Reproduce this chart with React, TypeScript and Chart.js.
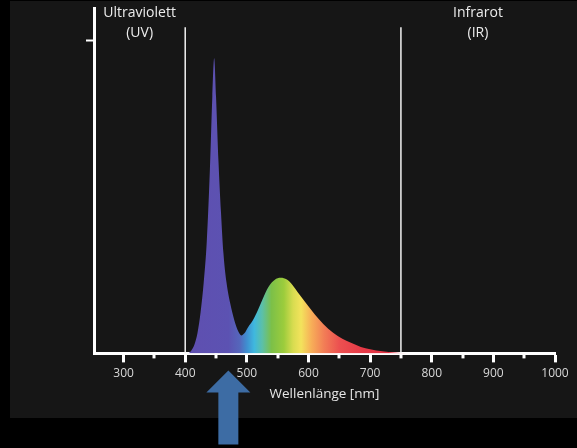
import React, { useEffect, useRef } from 'react';
import { Chart, registerables } from 'chart.js';

Chart.register(...registerables);

// Spectrum of a white LED (relative intensity, peak = 100)
const WAVELENGTH_NM = [405, 410, 415, 420, 425, 430, 435, 440, 444, 447, 450, 454, 458, 462, 467, 473, 480, 486, 491, 496, 502, 510, 518, 525, 535, 545, 555, 565, 574, 585, 598, 610, 624, 640, 655, 668, 685, 700, 720, 740, 760];
const INTENSITY = [0, 1, 3, 7, 14, 24, 38, 62, 87, 100, 87, 65, 48, 34, 24, 17, 11, 7.5, 6.1, 6.8, 8.9, 11.3, 14.7, 18.1, 22.5, 24.9, 25.6, 25.0, 23.2, 20.0, 16.5, 13.3, 10.0, 7.0, 5.0, 3.7, 2.2, 1.4, 0.7, 0.3, 0];

const X_MIN = 252;
const X_MAX = 1000;
const X_MAJOR_TICKS = [300, 400, 500, 600, 700, 800, 900, 1000];
const X_MINOR_TICKS = [350, 450, 550, 650, 750, 850, 950];
const Y_MAX = 117;
const Y_TICKS = [106];

const BOUNDARY_NM = [400, 750];
const BOUNDARY_TOP = 110.5;
const REGION_LABELS = [['Ultraviolett', '(UV)'], ['Infrarot', '(IR)']];
const ARROW_NM = 470;
const X_TITLE = 'Wellenlänge [nm]';

const GRADIENT_STOPS: [number, string][] = [
  [400, '#5f4fb0'],
  [470, '#5c52b2'],
  [488, '#5566bb'],
  [500, '#3f8fd0'],
  [512, '#3fb8df'],
  [525, '#5cc0a8'],
  [540, '#7cc048'],
  [560, '#9ccc3c'],
  [575, '#d8dc50'],
  [588, '#f3e35c'],
  [605, '#f7ae58'],
  [625, '#f27e56'],
  [650, '#ec5050'],
  [690, '#e63846'],
  [760, '#e03044'],
];

const FONT = '"Open Sans", "DejaVu Sans", sans-serif';

const decorPlugin = {
  id: 'decor',
  beforeDraw(chart: any) {
    const c = chart.ctx;
    c.save();
    c.fillStyle = '#000';
    c.fillRect(0, 0, chart.width, chart.height);
    c.fillStyle = '#161616';
    c.fillRect(10, 1, chart.width - 10, 417);
    c.restore();
  },
  afterDraw(chart: any) {
    const c = chart.ctx;
    const x = chart.scales.x;
    const area = chart.chartArea;
    c.save();
    // minor ticks
    c.strokeStyle = '#ffffff';
    c.lineWidth = 3;
    X_MINOR_TICKS.forEach((v) => {
      const px = Math.round(x.getPixelForValue(v));
      c.beginPath();
      c.moveTo(px, area.bottom);
      c.lineTo(px, area.bottom + 5);
      c.stroke();
    });
    // region labels
    c.fillStyle = '#ececec';
    c.font = '14px ' + FONT;
    c.textAlign = 'center';
    c.textBaseline = 'middle';
    const ranges = [[X_MIN, BOUNDARY_NM[0]], [BOUNDARY_NM[1], X_MAX]];
    REGION_LABELS.forEach((lines, i) => {
      const cx = x.getPixelForValue((ranges[i][0] + ranges[i][1]) / 2);
      lines.forEach((t, j) => c.fillText(t, cx, area.top + 5 + j * 20));
    });
    // arrow
    const ax = x.getPixelForValue(ARROW_NM);
    const tip = area.bottom + 17;
    c.fillStyle = '#3d6ca4';
    c.beginPath();
    c.moveTo(ax, tip);
    c.lineTo(ax + 22, tip + 22);
    c.lineTo(ax + 10, tip + 22);
    c.lineTo(ax + 10, tip + 74);
    c.lineTo(ax - 10, tip + 74);
    c.lineTo(ax - 10, tip + 22);
    c.lineTo(ax - 22, tip + 22);
    c.closePath();
    c.fill();
    c.restore();
  },
};

export default function App() {
  const ref = useRef<HTMLCanvasElement | null>(null);
  useEffect(() => {
    if (!ref.current) return;
    const spectrum = WAVELENGTH_NM.map((w, i) => ({ x: w, y: INTENSITY[i] }));
    const boundaries = BOUNDARY_NM.map((b) => ({
      type: 'line' as const,
      data: [{ x: b, y: 0 }, { x: b, y: BOUNDARY_TOP }],
      borderColor: '#f2f2f2',
      borderWidth: 1.5,
      pointRadius: 0,
      fill: false,
    }));
    const chart = new Chart(ref.current, {
      type: 'line',
      data: {
        datasets: [
          {
            data: spectrum,
            borderWidth: 0,
            borderColor: 'rgba(0,0,0,0)',
            pointRadius: 0,
            fill: 'origin',
            cubicInterpolationMode: 'monotone',
            backgroundColor: (ctx: any) => {
              const ch = ctx.chart;
              if (!ch.chartArea) return '#5f4fb0';
              const sx = ch.scales.x;
              const x0 = sx.getPixelForValue(400);
              const x1 = sx.getPixelForValue(760);
              const g = ch.ctx.createLinearGradient(x0, 0, x1, 0);
              GRADIENT_STOPS.forEach(([nm, col]) => g.addColorStop((nm - 400) / 360, col));
              return g;
            },
          } as any,
          ...boundaries,
        ],
      },
      options: {
        responsive: false,
        animation: false,
        devicePixelRatio: 1,
        layout: { padding: { left: 86, top: 8, right: 22, bottom: 46 } },
        plugins: { legend: { display: false }, tooltip: { enabled: false } },
        scales: {
          x: {
            type: 'linear',
            min: X_MIN,
            max: X_MAX,
            afterBuildTicks: (s: any) => {
              s.ticks = X_MAJOR_TICKS.map((v) => ({ value: v }));
            },
            ticks: {
              color: '#d8d8d8',
              font: { family: FONT, size: 12 },
              padding: 4,
              maxRotation: 0,
              autoSkip: false,
              callback: (v: any) => String(v),
            },
            grid: { drawOnChartArea: false, drawTicks: true, tickLength: 9, tickColor: '#ffffff', tickWidth: 3 },
            border: { display: true, color: '#ffffff', width: 3 },
            title: {
              display: true,
              text: X_TITLE,
              color: '#e6e6e6',
              font: { family: FONT, size: 13.5 },
              padding: { top: 1, bottom: 0 },
            },
          },
          y: {
            min: 0,
            max: Y_MAX,
            afterBuildTicks: (s: any) => {
              s.ticks = Y_TICKS.map((v) => ({ value: v }));
            },
            ticks: { display: false },
            grid: { drawOnChartArea: false, drawTicks: true, tickLength: 8, tickColor: '#ffffff', tickWidth: 2 },
            border: { display: true, color: '#ffffff', width: 3 },
          },
        },
      },
      plugins: [decorPlugin],
    } as any);
    return () => chart.destroy();
  }, []);
  return (
    <div style={{ position: 'fixed', left: 0, top: 0, width: 577, height: 448, background: '#000' }}>
      <canvas ref={ref} width={577} height={448} style={{ display: 'block' }} />
    </div>
  );
}
